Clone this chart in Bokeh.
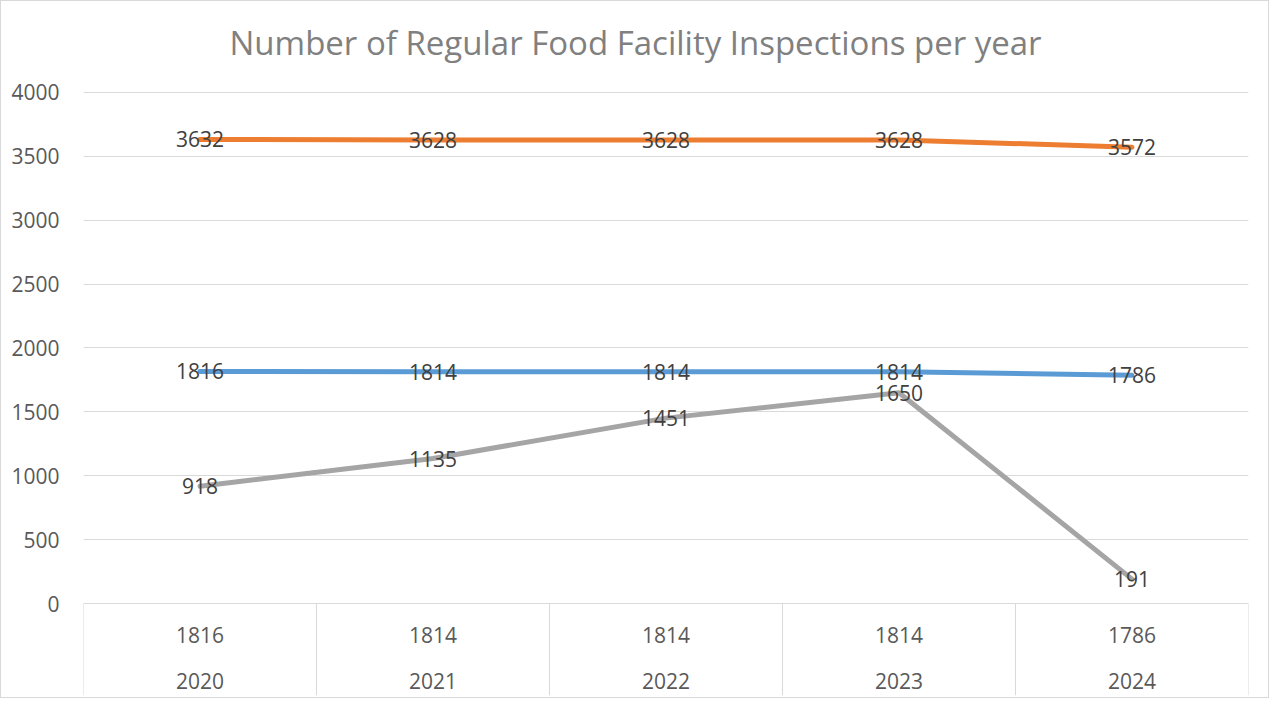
from bokeh.plotting import figure
from bokeh.models import Range1d, FixedTicker, ColumnDataSource
from bokeh.embed import file_html
from bokeh.resources import INLINE
from bokeh.core.properties import value

# ---- data ----
years = ["2020", "2021", "2022", "2023", "2024"]
top_row_labels = ["1816", "1814", "1814", "1814", "1786"]
orange_series = [3632, 3628, 3628, 3628, 3572]
blue_series = [1816, 1814, 1814, 1814, 1786]
gray_series = [918, 1135, 1451, 1650, 191]
y_ticks = [0, 500, 1000, 1500, 2000, 2500, 3000, 3500, 4000]
title_text = "Number of Regular Food Facility Inspections per year"

FONT = "Open Sans"
n = len(years)
xs = [i + 0.5 for i in range(n)]

p = figure(width=1269, height=698, output_backend="svg", toolbar_location=None,
           x_range=Range1d(0, n), y_range=Range1d(-720, 4078),
           min_border_left=82, min_border_right=22, min_border_top=81, min_border_bottom=4,
           title=title_text, tools="")
p.styles = {"border": "1px solid #d9d9d9"}

p.title.align = "left"
p.title.offset = 146
p.title.standoff = 32
p.title.vertical_align = "top"
p.title.text_font = FONT
p.title.text_font_size = "33px"
p.title.text_font_style = "normal"
p.title.text_color = "#808080"

p.outline_line_color = None
p.background_fill_color = "white"
p.border_fill_color = "white"

p.xaxis.visible = False
p.xgrid.visible = False
p.ygrid.ticker = FixedTicker(ticks=y_ticks)
p.ygrid.grid_line_color = "#d9d9d9"
p.ygrid.grid_line_width = 1

ya = p.yaxis[0]
ya.ticker = FixedTicker(ticks=y_ticks)
ya.axis_line_color = None
ya.major_tick_line_color = None
ya.minor_tick_line_color = None
ya.major_tick_out = 0
ya.major_tick_in = 0
ya.major_label_standoff = 24
ya.major_label_text_font = FONT
ya.major_label_text_font_size = "21px"
ya.major_label_text_color = "#595959"

# category table below the axis (separators)
bounds = list(range(n + 1))
p.segment(x0=bounds, y0=[0] * len(bounds), x1=bounds, y1=[-720] * len(bounds),
          line_color="#d9d9d9", line_width=1)

# table labels
p.text(x=xs, y=[-243] * n, text=top_row_labels, text_align="center", text_baseline="middle",
       text_font=value(FONT), text_font_size="21px", text_color="#595959")
p.text(x=xs, y=[-603] * n, text=years, text_align="center", text_baseline="middle",
       text_font=value(FONT), text_font_size="21px", text_color="#595959")

# lines
for series, color in [(orange_series, "#ED7D31"), (blue_series, "#5B9BD5"), (gray_series, "#A5A5A5")]:
    p.line(x=xs, y=series, line_color=color, line_width=5, line_join="round", line_cap="round")

for series in [orange_series, blue_series, gray_series]:
    src = ColumnDataSource(dict(x=xs, y=series, t=[str(v) for v in series]))
    p.text(x="x", y="y", text="t", source=src, text_align="center", text_baseline="middle",
           text_font=value(FONT), text_font_size="21px", text_color="#404040")

open("out.html", "w").write(file_html(p, INLINE))
